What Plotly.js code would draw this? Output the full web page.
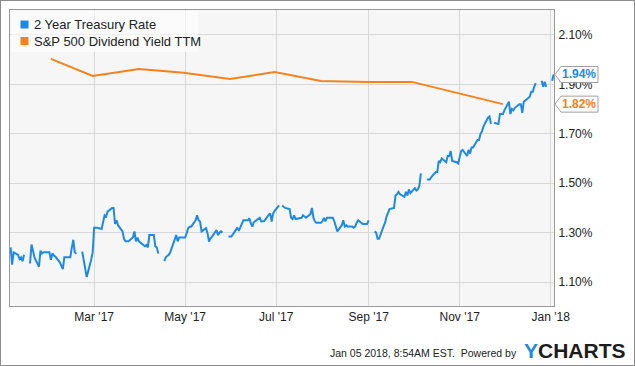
<!DOCTYPE html>
<html>
<head>
<meta charset="utf-8">
<script src="https://cdn.plot.ly/plotly-3.0.1.min.js"></script>
<style>
  html, body { margin: 0; padding: 0; background: #fff; }
  #wrap { position: relative; width: 635px; height: 366px; }
  #chart { width: 635px; height: 366px; }
  #frame { position: absolute; left: 0; top: 0; width: 635px; height: 366px; box-sizing: border-box; border: 1px solid #8c8c8c; pointer-events: none; }
</style>
</head>
<body>
<div id="wrap"><div id="chart"></div><div id="frame"></div></div>
<script>
// ---- Data ----
var seriesNames = ['2 Year Treasury Rate', 'S&P 500 Dividend Yield TTM'];

var treasuryDates = [
 '2017-01-04','2017-01-05','2017-01-06','2017-01-09','2017-01-10','2017-01-11','2017-01-12','2017-01-13','2017-01-16','2017-01-17',
 '2017-01-18','2017-01-19','2017-01-20','2017-01-23','2017-01-24','2017-01-25','2017-01-26','2017-01-27','2017-01-30','2017-01-31',
 '2017-02-01','2017-02-02','2017-02-03','2017-02-06','2017-02-07','2017-02-08','2017-02-09','2017-02-10','2017-02-13','2017-02-14',
 '2017-02-15','2017-02-16','2017-02-17','2017-02-20','2017-02-21','2017-02-22','2017-02-23','2017-02-24','2017-02-27','2017-02-28',
 '2017-03-01','2017-03-02','2017-03-03','2017-03-06','2017-03-07','2017-03-08','2017-03-09','2017-03-10','2017-03-13','2017-03-14',
 '2017-03-15','2017-03-16','2017-03-17','2017-03-20','2017-03-21','2017-03-22','2017-03-23','2017-03-24','2017-03-27','2017-03-28',
 '2017-03-29','2017-03-30','2017-03-31','2017-04-03','2017-04-04','2017-04-05','2017-04-06','2017-04-07','2017-04-10','2017-04-11',
 '2017-04-12','2017-04-13','2017-04-14','2017-04-17','2017-04-18','2017-04-19','2017-04-20','2017-04-21','2017-04-24','2017-04-25',
 '2017-04-26','2017-04-27','2017-04-28','2017-05-01','2017-05-02','2017-05-03','2017-05-04','2017-05-05','2017-05-08','2017-05-09',
 '2017-05-10','2017-05-11','2017-05-12','2017-05-15','2017-05-16','2017-05-17','2017-05-18','2017-05-19','2017-05-22','2017-05-23',
 '2017-05-24','2017-05-25','2017-05-26','2017-05-29','2017-05-30','2017-05-31','2017-06-01','2017-06-02','2017-06-05','2017-06-06',
 '2017-06-07','2017-06-08','2017-06-09','2017-06-12','2017-06-13','2017-06-14','2017-06-15','2017-06-16','2017-06-19','2017-06-20',
 '2017-06-21','2017-06-22','2017-06-23','2017-06-26','2017-06-27','2017-06-28','2017-06-29','2017-06-30','2017-07-03','2017-07-04',
 '2017-07-05','2017-07-06','2017-07-07','2017-07-10','2017-07-11','2017-07-12','2017-07-13','2017-07-14','2017-07-17','2017-07-18',
 '2017-07-19','2017-07-20','2017-07-21','2017-07-24','2017-07-25','2017-07-26','2017-07-27','2017-07-28','2017-07-31','2017-08-01',
 '2017-08-02','2017-08-03','2017-08-04','2017-08-07','2017-08-08','2017-08-09','2017-08-10','2017-08-11','2017-08-14','2017-08-15',
 '2017-08-16','2017-08-17','2017-08-18','2017-08-21','2017-08-22','2017-08-23','2017-08-24','2017-08-25','2017-08-28','2017-08-29',
 '2017-08-30','2017-08-31','2017-09-01','2017-09-04','2017-09-05','2017-09-06','2017-09-07','2017-09-08','2017-09-11','2017-09-12',
 '2017-09-13','2017-09-14','2017-09-15','2017-09-18','2017-09-19','2017-09-20','2017-09-21','2017-09-22','2017-09-25','2017-09-26',
 '2017-09-27','2017-09-28','2017-09-29','2017-10-02','2017-10-03','2017-10-04','2017-10-05','2017-10-06','2017-10-09','2017-10-10',
 '2017-10-11','2017-10-12','2017-10-13','2017-10-16','2017-10-17','2017-10-18','2017-10-19','2017-10-20','2017-10-23','2017-10-24',
 '2017-10-25','2017-10-26','2017-10-27','2017-10-30','2017-10-31','2017-11-01','2017-11-02','2017-11-03','2017-11-06','2017-11-07',
 '2017-11-08','2017-11-09','2017-11-10','2017-11-13','2017-11-14','2017-11-15','2017-11-16','2017-11-17','2017-11-20','2017-11-21',
 '2017-11-22','2017-11-23','2017-11-24','2017-11-27','2017-11-28','2017-11-29','2017-11-30','2017-12-01','2017-12-04','2017-12-05',
 '2017-12-06','2017-12-07','2017-12-08','2017-12-11','2017-12-12','2017-12-13','2017-12-14','2017-12-15','2017-12-18','2017-12-19',
 '2017-12-20','2017-12-21','2017-12-22','2017-12-25','2017-12-26','2017-12-27','2017-12-28','2017-12-29','2018-01-01','2018-01-02',
 '2018-01-03'
];
var treasuryValues = [
 1.24,1.17,1.22,1.21,1.193,1.20,1.184,1.21,null,1.175,
 1.252,1.227,1.20,1.162,1.227,1.216,1.221,1.221,1.221,1.19,
 1.216,1.207,1.203,1.18,1.162,1.152,1.20,1.20,1.20,1.238,
 1.271,1.221,1.214,null,1.223,1.19,1.155,1.12,1.19,1.22,
 1.32,1.32,1.32,1.315,1.35,1.37,1.365,1.385,1.40,1.40,
 1.335,1.35,1.33,1.305,1.275,1.265,1.265,1.265,1.28,1.305,
 1.265,1.28,1.265,1.25,1.245,1.25,1.24,1.29,1.29,1.245,
 1.24,1.215,null,1.185,1.20,1.205,1.21,1.22,1.28,1.29,
 1.265,1.28,1.28,1.28,1.297,1.318,1.324,1.324,1.35,1.37,
 1.35,1.345,1.305,1.318,1.297,1.264,1.277,1.284,1.31,1.29,
 1.30,1.305,1.30,null,1.284,1.284,1.284,1.293,1.32,1.307,
 1.324,1.334,1.35,1.35,1.358,1.338,1.324,1.342,1.358,1.36,
 1.345,1.345,1.347,1.372,1.378,1.345,1.378,1.388,1.41,null,
 1.41,1.405,1.40,1.395,1.36,1.355,1.37,1.355,1.36,1.36,
 1.37,1.365,1.36,1.375,1.40,1.36,1.345,1.34,1.34,1.345,
 1.36,1.345,1.36,1.36,1.36,1.345,1.325,1.305,1.33,1.35,
 1.325,1.33,1.325,1.325,1.32,1.325,1.34,1.35,1.335,1.335,
 1.335,1.335,1.35,null,1.305,1.30,1.275,1.275,1.325,1.34,
 1.365,1.38,1.395,1.40,1.45,1.455,1.465,1.455,1.445,1.465,
 1.45,1.475,1.46,1.48,1.47,1.475,1.49,1.54,null,1.515,
 1.515,1.515,1.525,1.545,1.545,1.59,1.585,1.60,1.585,1.61,
 1.61,1.63,1.59,1.585,1.58,1.61,1.63,1.635,1.61,1.635,
 1.62,1.645,1.645,1.675,1.675,1.70,1.71,1.73,1.765,1.77,
 1.74,null,1.745,1.74,1.78,1.78,1.78,1.795,1.83,1.78,
 1.80,1.795,1.805,1.82,1.82,1.785,1.83,1.835,1.85,1.87,
 1.87,1.89,1.905,null,1.915,1.89,1.91,1.89,null,1.915,
 1.94
];

var dividendDates  = ['2017-01-31','2017-02-28','2017-03-31','2017-04-30','2017-05-31','2017-06-30','2017-07-31','2017-08-31','2017-09-30','2017-10-31','2017-11-30'];
var dividendValues = [2.003, 1.934, 1.962, 1.947, 1.922, 1.95, 1.914, 1.91, 1.91, 1.865, 1.82];

var lastLabels = ['1.94%', '1.82%'];
var lastValues = [1.94, 1.82];

var yTicks = [1.10, 1.30, 1.50, 1.70, 1.90, 2.10];
var yTickText = ['1.10%', '1.30%', '1.50%', '1.70%', '1.90%', '2.10%'];
var footerText = 'Jan 05 2018, 8:54AM EST.  Powered by';

// ---- Styling ----
var BLUE = '#1f8ae6', ORANGE = '#f5821f';
var FONT = 'Arial, "Liberation Sans", sans-serif';
var W = 635, H = 366;
var M = {l: 10, r: 81, t: 10, b: 60};
var PW = W - M.l - M.r, PH = H - M.t - M.b;
var yRange = [1.003, 2.201];
function px(x) { return (x - M.l) / PW; }
function py(y) { return (H - M.b - y) / PH; }
function yPaper(v) { return (v - yRange[0]) / (yRange[1] - yRange[0]); }

var traces = [
  {x: treasuryDates, y: treasuryValues, name: seriesNames[0], type: 'scatter', mode: 'lines',
   line: {color: BLUE, width: 2}, connectgaps: false, hoverinfo: 'skip'},
  {x: dividendDates, y: dividendValues, name: seriesNames[1], type: 'scatter', mode: 'lines',
   line: {color: ORANGE, width: 2}, hoverinfo: 'skip'}
];

var shapes = [
  {type: 'rect', xref: 'paper', yref: 'paper', x0: px(11), x1: px(198), y0: py(11), y1: py(52),
   fillcolor: 'rgba(255,255,255,0.6)', line: {width: 0}, layer: 'above'},
  {type: 'rect', xref: 'paper', yref: 'paper', x0: px(20.5), x1: px(28.5), y0: py(20.5), y1: py(28.5),
   fillcolor: BLUE, line: {width: 0}, layer: 'above'},
  {type: 'rect', xref: 'paper', yref: 'paper', x0: px(20.5), x1: px(28.5), y0: py(37), y1: py(45),
   fillcolor: ORANGE, line: {width: 0}, layer: 'above'}
];
var annotations = [
  {xref: 'paper', yref: 'paper', x: px(32), y: py(24.5), xanchor: 'left', yanchor: 'middle', showarrow: false,
   text: seriesNames[0], font: {family: FONT, size: 13, color: '#222'}},
  {xref: 'paper', yref: 'paper', x: px(32), y: py(41), xanchor: 'left', yanchor: 'middle', showarrow: false,
   text: seriesNames[1], font: {family: FONT, size: 13, color: '#222'}},
  {xref: 'paper', yref: 'paper', x: px(519), y: py(352.5), xanchor: 'right', yanchor: 'middle', showarrow: false,
   text: footerText, font: {family: FONT, size: 10.5, color: '#222'}},
  {xref: 'paper', yref: 'paper', x: px(522), y: py(350), xanchor: 'left', yanchor: 'middle', showarrow: false,
   text: '<b><span style="color:' + BLUE + '">Y</span>CHARTS</b>', font: {family: FONT, size: 21, color: '#1d1d1d'}}
];
var labelColors = [BLUE, ORANGE];
for (var i = 0; i < lastValues.length; i++) {
  shapes.push({type: 'path', xref: 'paper', yref: 'paper', xsizemode: 'pixel', ysizemode: 'pixel',
    xanchor: 1, yanchor: yPaper(lastValues[i]),
    path: 'M1,0 L7,8 L44,8 L44,-8 L7,-8 Z', fillcolor: '#ffffff', line: {color: '#a0a0a0', width: 1}, layer: 'above'});
  annotations.push({xref: 'paper', yref: 'y', x: 1, xshift: 25, y: lastValues[i], xanchor: 'center', yanchor: 'middle',
    showarrow: false, text: '<b>' + lastLabels[i] + '</b>', font: {family: FONT, size: 12, color: labelColors[i]}});
}

var layout = {
  width: W, height: H, margin: M,
  paper_bgcolor: '#ffffff', plot_bgcolor: '#f6f6f6',
  showlegend: false, hovermode: false,
  xaxis: {type: 'date', range: ['2017-01-03 14:00', '2018-01-03 06:00'], tickformat: "%b '%y",
    dtick: 'M2', tick0: '2017-01-01', showgrid: true, gridcolor: '#d8d8d8', gridwidth: 1,
    showline: true, linecolor: '#999999', linewidth: 1, mirror: true, ticks: '', zeroline: false,
    tickfont: {family: FONT, size: 12, color: '#222'}},
  yaxis: {side: 'right', range: yRange, tickmode: 'array', tickvals: yTicks, ticktext: yTickText,
    showgrid: true, gridcolor: '#d8d8d8', gridwidth: 1, showline: true, linecolor: '#999999', linewidth: 1,
    mirror: true, ticks: '', zeroline: false, ticklabelstandoff: 1,
    tickfont: {family: FONT, size: 12, color: '#222'}},
  shapes: shapes, annotations: annotations
};

Plotly.newPlot('chart', traces, layout, {displayModeBar: false, staticPlot: true});
</script>
</body>
</html>
